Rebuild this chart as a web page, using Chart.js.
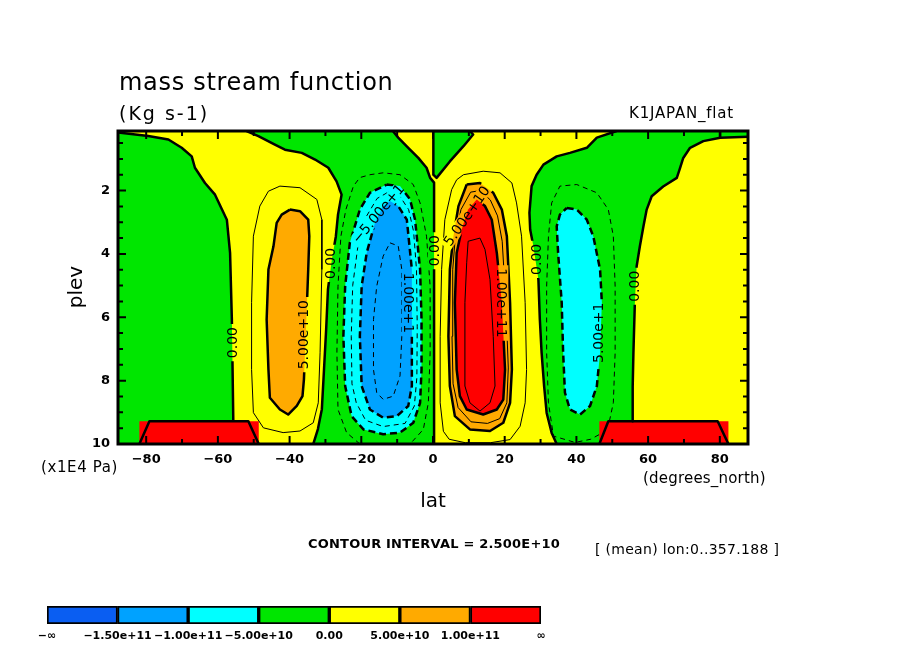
<!DOCTYPE html>
<html lang="en">
<head>
  <meta charset="UTF-8" />
  <title>mass stream function</title>
  <script src="https://cdn.jsdelivr.net/npm/chart.js"></script>
  <style>
    body { margin: 0; background: #fff; }
    #wrap { position: relative; width: 904px; height: 654px; }
    #main { position: absolute; left: 0; top: 0; }
    #bar { position: absolute; left: 0; top: 590px; }
  </style>
</head>
<body>
  <div id="wrap">
    <canvas id="main" width="904" height="654"></canvas>
    <canvas id="bar" width="904" height="64"></canvas>
  </div>

  <script>
    // axes: T42 latitudes, pressure in 1E4 Pa
    const latMin = -87.86, latMax = 87.86;
    const plevTop = 0.12, plevBottom = 10;
    const latTicks = [-80, -60, -40, -20, 0, 20, 40, 60, 80];
    const plevTicks = [2, 4, 6, 8, 10];

    // shade levels (interval 2.5e10, shaded every 5e10)
    const levelColors = ['#0a5ef2', '#00a2ff', '#00ffff', '#00e600', '#ffff00', '#ffaa00', '#ff0000'];
    const levelLabels = ['−∞', '−1.50e+11', '−1.00e+11', '−5.00e+10', '0.00', '5.00e+10', '1.00e+11', '∞'];

    // contours, [lat, plev]
    const zeroPolarS = [[-87.86, 0.17], [-79.4, 0.28], [-73.8, 0.39], [-70.1, 0.65], [-67.3, 0.92], [-66.4, 1.28],
      [-63.6, 1.76], [-60.8, 2.13], [-57.5, 2.92], [-56.6, 3.97], [-56.1, 6.07], [-55.9, 7.65], [-55.7, 9.28]];
    const zeroCellS = [[-52.0, 0.12], [-48.7, 0.28], [-44.1, 0.55], [-41.3, 0.71], [-36.6, 0.81], [-32.9, 1.02],
      [-29.2, 1.28], [-26.9, 1.71], [-25.5, 2.13], [-26.5, 2.76], [-27.1, 3.45], [-28.2, 4.17], [-29.3, 5.12],
      [-29.8, 6.38], [-30.4, 7.65], [-31.0, 8.9], [-32.1, 9.53], [-33.4, 10]];
    const zeroEquator = [[-11.2, 0.12], [-9.7, 0.33], [-6.9, 0.65], [-4.1, 0.97], [-1.8, 1.28], [-0.8, 1.6],
      [0.3, 1.75], [0.3, 10]];
    const zeroTriangle = [[0.1, 0.12], [0.1, 1.5], [1.0, 1.6], [4.7, 1.08], [8.5, 0.6], [11.2, 0.23], [10.3, 0.12]];
    const zeroCellN = [[51.2, 0.12], [45.7, 0.33], [42.9, 0.65], [38.2, 0.81], [34.5, 0.92], [30.8, 1.18],
      [28.9, 1.5], [27.5, 1.86], [26.9, 2.7], [27.1, 3.23], [28.0, 3.76], [29.4, 4.81], [29.8, 6.07],
      [30.3, 7.13], [31.0, 8.18], [31.7, 9.02], [33.1, 9.65], [34.5, 10]];
    const zeroPolarN = [[87.86, 0.3], [80.1, 0.33], [75.4, 0.44], [71.7, 0.65], [69.8, 0.97], [68.9, 1.29],
      [68.0, 1.6], [64.2, 1.87], [61.0, 2.18], [59.6, 2.6], [58.7, 3.13], [57.7, 3.76], [56.8, 4.39],
      [56.3, 5.55], [55.9, 7.13], [55.7, 8.18], [55.7, 9.28]];
    const zeroCorner = [[80.1, 0.12], [80.1, 0.33]];

    const pos25S = [[-42.7, 1.86], [-37.1, 1.91], [-32.4, 2.28], [-31.0, 2.92], [-31.0, 4.49], [-31.5, 7.12],
      [-32.0, 8.7], [-33.4, 9.33], [-37.1, 9.59], [-41.8, 9.64], [-47.3, 9.49], [-50.1, 9.01], [-50.6, 7.65],
      [-50.6, 5.54], [-50.1, 3.44], [-48.3, 2.49], [-45.9, 2.02]];
    const pos5S = [[-39.9, 2.6], [-37.1, 2.65], [-34.8, 2.92], [-34.5, 3.44], [-34.8, 4.49], [-35.3, 6.0],
      [-36.0, 7.96], [-36.4, 8.49], [-38.0, 8.8], [-40.4, 9.07], [-42.7, 8.91], [-45.5, 8.54], [-45.9, 7.65],
      [-46.4, 6.07], [-45.9, 4.49], [-44.5, 3.76], [-43.6, 3.02], [-42.2, 2.76]];

    const neg25S = [[-20.4, 10], [-24.1, 9.64], [-26.5, 8.91], [-26.8, 7.11], [-26.5, 5.03], [-25.7, 3.45],
      [-24.3, 2.6], [-22.2, 1.86], [-20.4, 1.59], [-17.6, 1.5], [-13.9, 1.44], [-9.2, 1.5], [-5.5, 1.81],
      [-3.6, 2.39], [-1.8, 3.44], [-0.8, 5.02], [-0.8, 7.12], [-1.3, 8.7], [-2.7, 9.54], [-6.4, 10]];
    const neg5S = [[-12.9, 1.81], [-9.2, 1.86], [-6.4, 2.28], [-5.0, 2.92], [-3.6, 4.49], [-3.2, 6.07],
      [-3.2, 7.65], [-3.6, 8.7], [-5.5, 9.33], [-9.2, 9.64], [-13.9, 9.69], [-19.4, 9.54], [-22.7, 9.12],
      [-24.5, 8.17], [-25.0, 6.6], [-24.5, 5.02], [-23.2, 3.65], [-20.4, 2.6], [-17.6, 2.07]];
    const neg75S = [[-12.5, 2.05], [-9.4, 2.15], [-6.8, 2.6], [-5.4, 3.3], [-4.6, 4.5], [-4.4, 6.3], [-4.5, 7.9],
      [-5.2, 8.8], [-7.8, 9.35], [-13.9, 9.45], [-18.8, 9.25], [-21.4, 8.7], [-22.6, 8.1], [-22.8, 6.6],
      [-22.4, 5.0], [-21.0, 3.8], [-18.5, 2.8], [-15.6, 2.25]];
    const neg10S = [[-12.0, 2.33], [-9.7, 2.49], [-7.3, 2.92], [-5.9, 4.49], [-5.9, 6.6], [-5.9, 8.17],
      [-6.9, 8.8], [-10.1, 9.12], [-13.9, 9.17], [-17.6, 8.91], [-19.9, 8.17], [-20.4, 6.6], [-19.9, 5.02],
      [-18.5, 3.97], [-16.2, 3.02], [-13.9, 2.49]];
    const neg125S = [[-12.0, 3.65], [-9.7, 3.75], [-8.7, 4.49], [-8.7, 6.6], [-9.2, 7.85], [-11.1, 8.49],
      [-13.9, 8.59], [-15.7, 8.38], [-16.6, 7.65], [-16.6, 6.07], [-15.7, 5.02], [-13.9, 4.07]];

    const pos25N = [[8.5, 1.5], [14.0, 1.39], [18.7, 1.44], [22.0, 1.76], [23.3, 2.39], [24.7, 3.44], [25.7, 5.54],
      [26.1, 7.65], [25.7, 8.7], [24.3, 9.44], [21.5, 9.86], [16.0, 9.96], [9.0, 9.96], [4.5, 9.85], [2.9, 9.6],
      [2.0, 8.7], [2.0, 6.6], [2.4, 4.49], [3.3, 2.92], [5.2, 1.97], [6.6, 1.66]];
    const pos5N = [[9.4, 1.81], [13.1, 1.76], [16.8, 2.07], [19.2, 2.6], [20.6, 3.44], [21.5, 5.54], [22.0, 7.65],
      [21.5, 8.7], [19.6, 9.33], [15.9, 9.59], [10.3, 9.54], [6.1, 9.12], [4.7, 8.17], [4.3, 6.6], [4.7, 4.49],
      [5.7, 3.44], [7.1, 2.49]];
    const pos75N = [[10.5, 2.05], [13.2, 2.0], [16.0, 2.3], [18.0, 2.8], [19.3, 3.6], [20.3, 5.5], [21.0, 7.6],
      [20.6, 8.7], [18.6, 9.2], [15.2, 9.35], [10.6, 9.3], [7.0, 8.85], [5.6, 8.1], [5.3, 6.6], [5.5, 4.5],
      [6.2, 3.5], [7.8, 2.6]];
    const pos10N = [[12.2, 2.28], [14.5, 2.49], [16.4, 2.92], [17.8, 3.97], [19.2, 5.54], [20.1, 7.65],
      [19.6, 8.6], [17.8, 8.91], [14.0, 9.07], [9.4, 8.91], [7.5, 8.49], [6.6, 7.65], [6.1, 5.54], [6.6, 3.97],
      [8.0, 3.23], [9.8, 2.6]];
    const pos125N = [[9.8, 3.6], [13.1, 3.5], [14.5, 3.86], [15.9, 4.81], [16.8, 6.6], [17.3, 8.17], [15.9, 8.7],
      [13.1, 8.96], [10.3, 8.7], [8.9, 8.17], [8.9, 5.54], [9.4, 4.28]];

    const neg25N = [[49.2, 9.28], [50.3, 8.7], [50.8, 7.12], [50.8, 5.02], [50.3, 3.44], [48.9, 2.6], [45.7, 2.07],
      [40.1, 1.81], [35.4, 1.86], [33.1, 2.39], [32.2, 3.44], [31.7, 5.02], [31.7, 7.12], [32.2, 8.7],
      [33.6, 9.75], [39.6, 9.95], [44.0, 9.85], [46.4, 9.7]];
    const neg5N = [[37.3, 2.55], [40.1, 2.6], [42.9, 2.92], [44.7, 3.44], [46.6, 4.49], [47.1, 5.54], [46.6, 7.12],
      [45.7, 8.17], [43.8, 8.8], [41.0, 9.07], [38.2, 8.91], [36.8, 8.38], [36.3, 7.12], [35.9, 5.54],
      [34.9, 3.97], [34.5, 3.13], [35.4, 2.76]];

    // masked boxes near the surface
    const boxS = [[-81.9, 9.28], [-48.6, 9.28], [-48.6, 10], [-81.9, 10]];
    const boxN = [[46.4, 9.28], [82.4, 9.28], [82.4, 10], [46.4, 10]];
    const ridgeS = [[-81.9, 10], [-79.1, 9.28], [-51.5, 9.28], [-48.6, 10]];
    const ridgeN = [[46.4, 10], [48.9, 9.28], [79.4, 9.28], [82.4, 10]];

    // contour labels
    const labelText = ['0.00', '0.00', '5.00e+10', '−5.00e+1', '1.00e+1', '0.00', '5.00e+10', '1.00e+11', '0.00', '5.00e+1', '0.00'];
    const labelLat = [-56.1, -28.7, -36.2, -15.3, -6.9, 0.4, 9.4, 19.2, 28.9, 46.1, 56.3];
    const labelPlev = [6.8, 4.3, 6.55, 2.73, 5.55, 3.9, 2.8, 5.55, 4.17, 6.49, 5.02];
    const labelAngle = [-90, -90, -90, -50, 90, -90, -55, 90, -90, -90, -90];

    const closed = a => a.concat([a[0]]);
    const rev = a => a.slice().reverse();

    const regions = [
      [3, zeroPolarS.concat([[-55.7, 10], [latMin, 10]])],
      [3, zeroCellS.concat(rev(zeroEquator))],
      [3, zeroTriangle],
      [3, zeroCellN.concat([[55.7, 10]], rev(zeroPolarN), [[latMax, plevTop]])],
      [2, neg5S], [1, neg10S], [2, neg5N],
      [5, pos5S], [5, pos5N], [6, pos10N],
      [6, boxS], [6, boxN]
    ];

    const THICK = 2.5, THIN = 1, DASH = [7, 4], FINE = [5, 4];
    const lines = [
      [zeroPolarS, THICK, []], [zeroCellS, THICK, []], [zeroEquator, THICK, []], [closed(zeroTriangle), THICK, []],
      [zeroCellN, THICK, []], [zeroPolarN, THICK, []], [zeroCorner, THICK, []],
      [closed(pos25S), THIN, []], [closed(pos5S), THICK, []],
      [neg25S, THIN, FINE], [closed(neg5S), THICK, DASH], [closed(neg75S), THIN, FINE],
      [closed(neg10S), THICK, DASH], [closed(neg125S), THIN, FINE],
      [closed(pos25N), THIN, []], [closed(pos5N), THICK, []], [closed(pos75N), THIN, []],
      [closed(pos10N), THICK, []], [closed(pos125N), THIN, []],
      [neg25N, THIN, FINE], [closed(neg5N), THICK, DASH],
      [ridgeS, THICK, []], [ridgeN, THICK, []]
    ];

    const FONT = '"DejaVu Sans", sans-serif';
    const minus = v => (v < 0 ? '−' + Math.abs(v) : String(v));

    function labelBoxes(chart) {
      const {ctx, scales} = chart;
      ctx.font = '14px ' + FONT;
      return labelText.map((t, i) => ({
        t, a: labelAngle[i] * Math.PI / 180,
        x: scales.x.getPixelForValue(labelLat[i]),
        y: scales.y.getPixelForValue(labelPlev[i]),
        w: ctx.measureText(t).width + 6, h: 13
      }));
    }

    function text(ctx, str, x, y, font, spacing) {
      ctx.font = font;
      ctx.letterSpacing = (spacing || 0) + 'px';
      ctx.fillText(str, x, y);
      ctx.letterSpacing = '0px';
    }

    const contourPlugin = {
      id: 'contourFill',
      beforeDatasetsDraw(chart) {
        const {ctx, chartArea: a, scales} = chart;
        ctx.save();
        ctx.beginPath();
        ctx.rect(a.left, a.top, a.width, a.height);
        ctx.clip();
        ctx.fillStyle = levelColors[4];
        ctx.fillRect(a.left, a.top, a.width, a.height);
        regions.forEach(([c, pts]) => {
          ctx.beginPath();
          pts.forEach((p, i) => {
            const x = scales.x.getPixelForValue(p[0]), y = scales.y.getPixelForValue(p[1]);
            if (i) ctx.lineTo(x, y); else ctx.moveTo(x, y);
          });
          ctx.closePath();
          ctx.fillStyle = levelColors[c];
          ctx.fill();
        });
        ctx.restore();

        // leave gaps in the lines where labels go
        const gaps = new Path2D();
        gaps.rect(0, 0, chart.width, chart.height);
        labelBoxes(chart).forEach(b => {
          const cs = Math.cos(b.a), sn = Math.sin(b.a);
          [[-1, -1], [1, -1], [1, 1], [-1, 1]].forEach(([sx, sy], k) => {
            const cx = sx * b.w / 2, cy = sy * b.h / 2;
            const px = b.x + cx * cs - cy * sn, py = b.y + cx * sn + cy * cs;
            if (k) gaps.lineTo(px, py); else gaps.moveTo(px, py);
          });
          gaps.closePath();
        });
        ctx.save();
        ctx.clip(gaps, 'evenodd');
      },
      afterDatasetsDraw(chart) {
        const {ctx, chartArea: a, scales} = chart;
        ctx.restore();

        // contour labels
        ctx.save();
        ctx.fillStyle = '#000';
        ctx.textAlign = 'center';
        ctx.textBaseline = 'middle';
        labelBoxes(chart).forEach(b => {
          ctx.save();
          ctx.translate(b.x, b.y);
          ctx.rotate(b.a);
          ctx.fillText(b.t, 0, 1);
          ctx.restore();
        });

        // frame and inward ticks
        ctx.strokeStyle = '#000';
        ctx.lineWidth = 2;
        ctx.beginPath();
        for (let v = -80; v <= 80; v += 10) {
          const x = scales.x.getPixelForValue(v), len = v % 20 === 0 ? 8 : 5;
          ctx.moveTo(x, a.bottom); ctx.lineTo(x, a.bottom - len);
          ctx.moveTo(x, a.top); ctx.lineTo(x, a.top + len);
        }
        for (let v = 0.5; v < 10; v += 0.5) {
          const y = scales.y.getPixelForValue(v), len = v % 2 === 0 ? 8 : 5;
          ctx.moveTo(a.left, y); ctx.lineTo(a.left + len, y);
          ctx.moveTo(a.right, y); ctx.lineTo(a.right - len, y);
        }
        ctx.stroke();
        ctx.lineWidth = 3;
        ctx.strokeRect(a.left, a.top, a.width, a.height);

        // titles and notes
        ctx.textAlign = 'left';
        ctx.textBaseline = 'alphabetic';
        text(ctx, 'mass stream function', 119, 90, '24px ' + FONT, 0.7);
        text(ctx, '(Kg s-1)', 119, 120, '19px ' + FONT, 2);
        ctx.textAlign = 'right';
        text(ctx, 'K1JAPAN_flat', 734, 118, '15px ' + FONT, 0.8);
        ctx.textAlign = 'left';
        text(ctx, '(x1E4 Pa)', 41, 472, '15px ' + FONT, 0.6);
        text(ctx, '(degrees_north)', 643, 483, '15px ' + FONT, 0.2);
        ctx.textAlign = 'center';
        text(ctx, 'lat', (a.left + a.right) / 2, 507, '20px ' + FONT, 0);
        ctx.save();
        ctx.translate(82, 287);
        ctx.rotate(-Math.PI / 2);
        text(ctx, 'plev', 0, 0, '20px ' + FONT, 0);
        ctx.restore();
        ctx.textAlign = 'left';
        text(ctx, 'CONTOUR INTERVAL = 2.500E+10', 308, 548, 'bold 13px ' + FONT, 0.2);
        text(ctx, '[ (mean) lon:0..357.188 ]', 595, 554, '14px ' + FONT, 0.3);
        ctx.restore();
      }
    };

    new Chart(document.getElementById('main'), {
      type: 'scatter',
      data: {
        datasets: lines.map(([pts, w, dash]) => ({
          data: pts.map(p => ({x: p[0], y: p[1]})),
          showLine: true,
          borderColor: '#000',
          borderWidth: w,
          borderDash: dash,
          borderJoinStyle: 'round',
          pointRadius: 0,
          fill: false,
          tension: 0
        }))
      },
      options: {
        responsive: false,
        animation: false,
        devicePixelRatio: 1,
        layout: {padding: {left: 88, right: 156, top: 131, bottom: 180}},
        plugins: {legend: {display: false}, tooltip: {enabled: false}},
        scales: {
          x: {
            type: 'linear', min: latMin, max: latMax,
            grid: {display: false, drawTicks: false}, border: {display: false},
            afterFit(s) { s.height = 30; },
            afterBuildTicks(s) { s.ticks = latTicks.map(v => ({value: v})); },
            ticks: {color: '#000', font: {family: FONT, size: 13, weight: 'bold'}, padding: 8,
              maxRotation: 0, autoSkip: false, callback: v => minus(v)}
          },
          y: {
            type: 'linear', reverse: true, min: plevTop, max: plevBottom,
            grid: {display: false, drawTicks: false}, border: {display: false},
            afterFit(s) { s.width = 30; },
            afterBuildTicks(s) { s.ticks = plevTicks.map(v => ({value: v})); },
            ticks: {color: '#000', font: {family: FONT, size: 13, weight: 'bold'}, padding: 8,
              autoSkip: false, callback: v => String(v)}
          }
        }
      },
      plugins: [contourPlugin]
    });

    // colour key
    const keyLabels = {
      id: 'keyLabels',
      afterDraw(chart) {
        const {ctx, chartArea: a, scales} = chart;
        ctx.save();
        ctx.fillStyle = '#000';
        ctx.font = 'bold 11px ' + FONT;
        ctx.textAlign = 'center';
        ctx.textBaseline = 'middle';
        levelLabels.forEach((t, i) => ctx.fillText(t, scales.x.getPixelForValue(i), a.bottom + 12));
        ctx.restore();
      }
    };

    new Chart(document.getElementById('bar'), {
      type: 'bar',
      data: {
        labels: [''],
        datasets: levelColors.map(c => ({
          data: [1], backgroundColor: c, borderColor: '#000', borderWidth: 2,
          borderSkipped: false, barPercentage: 1, categoryPercentage: 1
        }))
      },
      options: {
        indexAxis: 'y',
        responsive: false,
        animation: false,
        devicePixelRatio: 1,
        layout: {padding: {left: 47, right: 363, top: 16, bottom: 30}},
        plugins: {legend: {display: false}, tooltip: {enabled: false}},
        scales: {
          x: {stacked: true, min: 0, max: 7, display: false},
          y: {stacked: true, display: false}
        }
      },
      plugins: [keyLabels]
    });
  </script>
</body>
</html>
